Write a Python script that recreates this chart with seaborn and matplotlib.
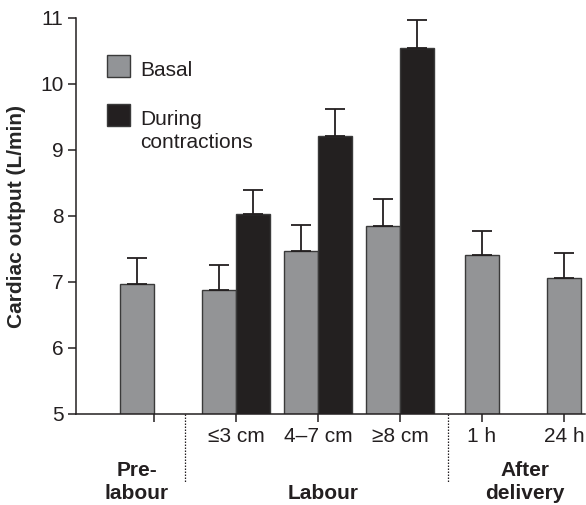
import numpy as np
import pandas as pd
import matplotlib
matplotlib.use('Agg')
import matplotlib.pyplot as plt
import seaborn as sns
from matplotlib.patches import Rectangle
import matplotlib.transforms as mtransforms

# values (L/min)
groups = ['pre', '≤3 cm', '4–7 cm', '≥8 cm', '1 h', '24 h']
tick_labels = ['', '≤3 cm', '4–7 cm', '≥8 cm', '1 h', '24 h']
basal = [6.97, 6.88, 7.47, 7.85, 7.41, 7.06]
basal_err = [0.39, 0.37, 0.39, 0.40, 0.36, 0.38]
contr_groups = ['≤3 cm', '4–7 cm', '≥8 cm']
contr = [8.03, 9.21, 10.55]
contr_err = [0.37, 0.41, 0.42]

grey = '#929497'
dark = '#231f20'
fs = 15

sns.set_style('ticks')
plt.rcParams['font.family'] = ['Liberation Sans', 'DejaVu Sans']

df = pd.DataFrame({
    'group': groups + contr_groups,
    'value': basal + contr,
    'series': ['Basal'] * len(groups) + ['During contractions'] * len(contr_groups),
})

fig = plt.figure(figsize=(5.86, 5.05), dpi=100)
ax = fig.add_axes([76 / 586, 1 - 414 / 505, 509 / 586, 396 / 505])

sns.barplot(data=df, x='group', y='value', hue='series', order=groups,
            hue_order=['Basal', 'During contractions'],
            palette=[grey, dark], width=0.83, dodge=True, errorbar=None,
            edgecolor='#3a3a3a', linewidth=1.0, legend=False, ax=ax)

# seaborn draws the Basal bars first, then the contraction bars
bars = list(ax.patches)
basal_bars = bars[:len(groups)]
contr_bars = bars[len(groups):]

# after-delivery bars sit centred on their ticks
for b in basal_bars[4:]:
    b.set_x(b.get_x() + b.get_width() / 2)

def centres(bs):
    return [b.get_x() + b.get_width() / 2 for b in bs]

for bs, vals, errs in [(basal_bars, basal, basal_err), (contr_bars, contr, contr_err)]:
    ax.errorbar(centres(bs), vals, yerr=[np.zeros(len(errs)), errs], fmt='none',
                ecolor=dark, elinewidth=1.3, capsize=7, capthick=1.3, zorder=1)

ax.set_ylim(5, 11)
ax.set_xlim(-0.951, 5.256)
ax.set_yticks(range(5, 12))
ax.set_xticks(range(len(groups)))
ax.set_xticklabels(tick_labels)
ax.set_xlabel('')
ax.set_ylabel('Cardiac output (L/min)', fontsize=fs, fontweight='bold')
ax.yaxis.set_label_coords(-0.098, 0.5)
ax.tick_params(axis='both', labelsize=fs, length=6, width=1.1, colors=dark, pad=3)
for s in ['left', 'bottom']:
    ax.spines[s].set_linewidth(1.1)
    ax.spines[s].set_color(dark)
sns.despine(ax=ax)

# separators and group labels under the axis
trans = mtransforms.blended_transform_factory(ax.transData, ax.transAxes)
for xs in [0.378, 3.585]:
    ax.plot([xs, xs], [0, -0.172], transform=trans, clip_on=False,
            color=dark, lw=0.9, ls=(0, (1.2, 1.2)))
ax.text(-0.2075, -0.172, 'Pre-\nlabour', transform=trans, ha='center', va='center',
        fontsize=fs, fontweight='bold', linespacing=1.3, color=dark)
ax.text(2.06, -0.202, 'Labour', transform=trans, ha='center', va='center',
        fontsize=fs, fontweight='bold', color=dark)
ax.text(4.52, -0.172, 'After\ndelivery', transform=trans, ha='center', va='center',
        fontsize=fs, fontweight='bold', linespacing=1.3, color=dark)

# legend drawn by hand so the square lines up with the first text line
for y0, col in [(0.851, grey), (0.727, dark)]:
    ax.add_patch(Rectangle((0.061, y0), 0.045, 0.0556, transform=ax.transAxes,
                           facecolor=col, edgecolor='#3a3a3a', lw=1.0, clip_on=False))
ax.text(0.126, 0.868, 'Basal', transform=ax.transAxes, ha='left', va='center',
        fontsize=fs, color=dark)
ax.text(0.126, 0.768, 'During\ncontractions', transform=ax.transAxes, ha='left', va='top',
        fontsize=fs, linespacing=1.3, color=dark)

fig.savefig('out.png', dpi=100)
